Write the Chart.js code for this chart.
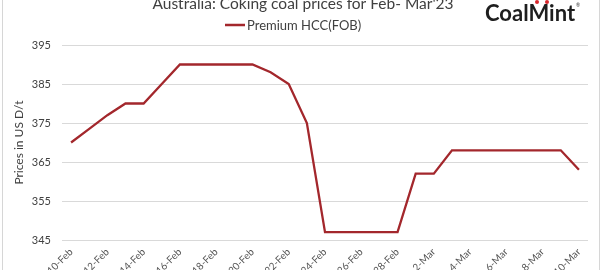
<!DOCTYPE html>
<html>
<head>
<meta charset="utf-8">
<script src="https://cdn.jsdelivr.net/npm/chart.js@4.4.1/dist/chart.umd.min.js"></script>
<style>
  html, body { margin: 0; padding: 0; background: #fff; overflow: hidden; }
  #wrap { position: relative; width: 604px; height: 300px; }
</style>
</head>
<body>
<div id="wrap"><canvas id="c" width="604" height="300"></canvas></div>
<script>
const chartTitle = "Australia: Coking coal prices for Feb- Mar'23";
const seriesName = "Premium HCC(FOB)";
const yAxisTitle = "Prices in US D/t";
const categories = [
  "10-Feb","11-Feb","12-Feb","13-Feb","14-Feb","15-Feb","16-Feb","17-Feb","18-Feb","19-Feb",
  "20-Feb","21-Feb","22-Feb","23-Feb","24-Feb","25-Feb","26-Feb","27-Feb","28-Feb",
  "1-Mar","2-Mar","3-Mar","4-Mar","5-Mar","6-Mar","7-Mar","8-Mar","9-Mar","10-Mar"
];
const hccPrices = [
  370, 373.5, 377, 380, 380, 385, 390, 390, 390, 390,
  390, 388, 385, 375, 347, 347, 347, 347, 347,
  362, 362, 368, 368, 368, 368, 368, 368, 368, 363
];
const yTickMin = 345;
const yTickMax = 395;
const yTickStep = 10;

const FONT = "Lato, 'Open Sans', sans-serif";
const LINE_COLOR = "#A3272C";

const decor = {
  id: 'decor',
  beforeDraw(chart) {
    const ctx = chart.ctx;
    ctx.save();
    ctx.fillStyle = '#fff';
    ctx.fillRect(0, 0, chart.width, chart.height);
    ctx.restore();
  },
  afterDraw(chart) {
    const ctx = chart.ctx;
    ctx.save();
    // frame lines
    ctx.strokeStyle = '#d6d6d6';
    ctx.lineWidth = 1;
    ctx.beginPath();
    ctx.moveTo(2.5, 0); ctx.lineTo(2.5, chart.height);
    ctx.moveTo(599.5, 0); ctx.lineTo(599.5, chart.height);
    ctx.stroke();
    // title
    ctx.fillStyle = '#404040';
    ctx.font = "15.5px " + FONT;
    ctx.textAlign = 'center';
    ctx.textBaseline = 'alphabetic';
    ctx.fillText(chartTitle, 303, 9);
    // legend
    ctx.strokeStyle = LINE_COLOR;
    ctx.lineWidth = 2.5;
    ctx.beginPath();
    ctx.moveTo(225, 25); ctx.lineTo(245, 25);
    ctx.stroke();
    ctx.fillStyle = '#404040';
    ctx.font = "13px " + FONT;
    ctx.textAlign = 'left';
    ctx.fillText(seriesName, 247, 29.5);
    // logo
    ctx.fillStyle = '#1e1e1e';
    ctx.font = "bold 22px " + FONT;
    ctx.textAlign = 'left';
    ctx.fillText("CoalMint", 485, 20.5);
    ctx.fillStyle = '#d8262c';
    ctx.beginPath(); ctx.arc(537, 2, 2, 0, Math.PI * 2); ctx.fill();
    ctx.beginPath(); ctx.arc(547, 2, 2, 0, Math.PI * 2); ctx.fill();
    ctx.fillStyle = '#333';
    ctx.font = "5px " + FONT;
    ctx.fillText("®", 576, 7);
    ctx.restore();
  }
};

new Chart(document.getElementById('c'), {
  type: 'line',
  data: {
    labels: categories,
    datasets: [{
      label: seriesName,
      data: hccPrices,
      borderColor: LINE_COLOR,
      backgroundColor: LINE_COLOR,
      borderWidth: 2.3,
      pointRadius: 0,
      tension: 0,
      fill: false
    }]
  },
  options: {
    responsive: false,
    animation: false,
    devicePixelRatio: 1,
    layout: { padding: { top: 45, left: 0, right: 16, bottom: 0 } },
    plugins: {
      legend: { display: false },
      title: { display: false },
      tooltip: { enabled: false }
    },
    scales: {
      x: {
        type: 'category',
        offset: true,
        grid: { display: false, drawTicks: false },
        border: { display: false },
        ticks: {
          autoSkip: false,
          maxRotation: 45,
          minRotation: 45,
          padding: 6,
          color: '#555',
          font: { family: FONT, size: 10 },
          callback: function(v, i) { return i % 2 === 0 ? categories[i] : ''; }
        },
        afterFit(scale) { scale.height = 60; }
      },
      y: {
        min: yTickMin,
        max: yTickMax,
        grid: { color: '#d9d9d9', lineWidth: 1, drawTicks: false },
        border: { display: false },
        ticks: {
          stepSize: yTickStep,
          padding: 11,
          color: '#404040',
          font: { family: FONT, size: 11 }
        },
        title: {
          display: true,
          text: yAxisTitle,
          color: '#404040',
          font: { family: FONT, size: 12 },
          padding: { top: 12, bottom: 0 }
        },
        afterFit(scale) { scale.width = 62; }
      }
    }
  },
  plugins: [decor]
});
</script>
</body>
</html>
